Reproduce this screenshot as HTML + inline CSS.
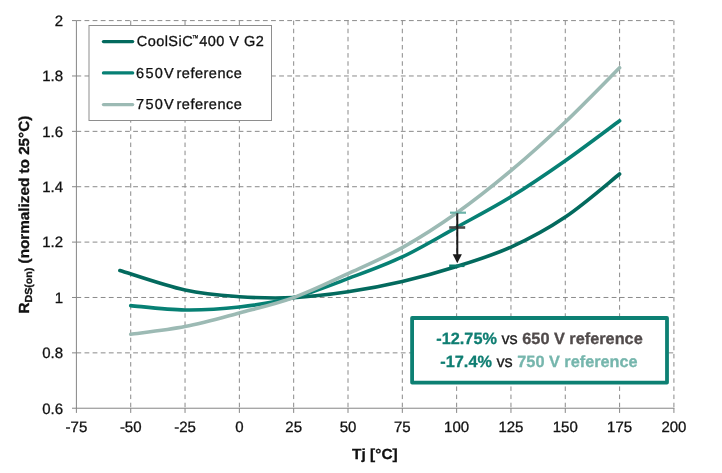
<!DOCTYPE html>
<html><head><meta charset="utf-8"><style>
html,body{margin:0;padding:0;background:#fff;width:722px;height:473px;overflow:hidden}
svg{display:block;will-change:transform}
text{text-rendering:geometricPrecision;font-family:"Liberation Sans",Arial,sans-serif;fill:#111;stroke:#111;stroke-width:0.3px}
.tl{font-size:15px}
.an{font-size:16.3px;font-weight:bold}
</style></head><body>
<svg width="722" height="473" viewBox="0 0 722 473">
<rect width="722" height="473" fill="#fff"/>
<line x1="76.40" y1="352.86" x2="673.92" y2="352.86" stroke="#8a8a8a" stroke-width="1" stroke-dasharray="4.8 3.31"/>
<line x1="76.40" y1="297.48" x2="673.92" y2="297.48" stroke="#8a8a8a" stroke-width="1" stroke-dasharray="4.8 3.31"/>
<line x1="76.40" y1="242.10" x2="673.92" y2="242.10" stroke="#8a8a8a" stroke-width="1" stroke-dasharray="4.8 3.31"/>
<line x1="76.40" y1="186.73" x2="673.92" y2="186.73" stroke="#8a8a8a" stroke-width="1" stroke-dasharray="4.8 3.31"/>
<line x1="76.40" y1="131.35" x2="673.92" y2="131.35" stroke="#8a8a8a" stroke-width="1" stroke-dasharray="4.8 3.31"/>
<line x1="76.40" y1="75.98" x2="673.92" y2="75.98" stroke="#8a8a8a" stroke-width="1" stroke-dasharray="4.8 3.31"/>
<line x1="76.40" y1="20.60" x2="673.92" y2="20.60" stroke="#8a8a8a" stroke-width="1" stroke-dasharray="4.8 3.31"/>
<line x1="130.72" y1="20.60" x2="130.72" y2="408.23" stroke="#8a8a8a" stroke-width="1" stroke-dasharray="4.5 3.63"/>
<line x1="185.04" y1="20.60" x2="185.04" y2="408.23" stroke="#8a8a8a" stroke-width="1" stroke-dasharray="4.5 3.63"/>
<line x1="239.36" y1="20.60" x2="239.36" y2="408.23" stroke="#8a8a8a" stroke-width="1" stroke-dasharray="4.5 3.63"/>
<line x1="293.68" y1="20.60" x2="293.68" y2="408.23" stroke="#8a8a8a" stroke-width="1" stroke-dasharray="4.5 3.63"/>
<line x1="348.00" y1="20.60" x2="348.00" y2="408.23" stroke="#8a8a8a" stroke-width="1" stroke-dasharray="4.5 3.63"/>
<line x1="402.32" y1="20.60" x2="402.32" y2="408.23" stroke="#8a8a8a" stroke-width="1" stroke-dasharray="4.5 3.63"/>
<line x1="456.64" y1="20.60" x2="456.64" y2="408.23" stroke="#8a8a8a" stroke-width="1" stroke-dasharray="4.5 3.63"/>
<line x1="510.96" y1="20.60" x2="510.96" y2="408.23" stroke="#8a8a8a" stroke-width="1" stroke-dasharray="4.5 3.63"/>
<line x1="565.28" y1="20.60" x2="565.28" y2="408.23" stroke="#8a8a8a" stroke-width="1" stroke-dasharray="4.5 3.63"/>
<line x1="619.60" y1="20.60" x2="619.60" y2="408.23" stroke="#8a8a8a" stroke-width="1" stroke-dasharray="4.5 3.63"/>
<line x1="673.92" y1="20.60" x2="673.92" y2="408.23" stroke="#8a8a8a" stroke-width="1" stroke-dasharray="4.5 3.63"/>
<line x1="76.40" y1="20.60" x2="76.40" y2="408.23" stroke="#868686" stroke-width="1"/>
<line x1="75.90" y1="408.23" x2="674.42" y2="408.23" stroke="#868686" stroke-width="1"/>
<line x1="72" y1="408.23" x2="76.40" y2="408.23" stroke="#868686" stroke-width="1"/>
<line x1="72" y1="352.86" x2="76.40" y2="352.86" stroke="#868686" stroke-width="1"/>
<line x1="72" y1="297.48" x2="76.40" y2="297.48" stroke="#868686" stroke-width="1"/>
<line x1="72" y1="242.10" x2="76.40" y2="242.10" stroke="#868686" stroke-width="1"/>
<line x1="72" y1="186.73" x2="76.40" y2="186.73" stroke="#868686" stroke-width="1"/>
<line x1="72" y1="131.35" x2="76.40" y2="131.35" stroke="#868686" stroke-width="1"/>
<line x1="72" y1="75.98" x2="76.40" y2="75.98" stroke="#868686" stroke-width="1"/>
<line x1="72" y1="20.60" x2="76.40" y2="20.60" stroke="#868686" stroke-width="1"/>
<line x1="76.40" y1="408.23" x2="76.40" y2="412.93" stroke="#868686" stroke-width="1"/>
<line x1="130.72" y1="408.23" x2="130.72" y2="412.93" stroke="#868686" stroke-width="1"/>
<line x1="185.04" y1="408.23" x2="185.04" y2="412.93" stroke="#868686" stroke-width="1"/>
<line x1="239.36" y1="408.23" x2="239.36" y2="412.93" stroke="#868686" stroke-width="1"/>
<line x1="293.68" y1="408.23" x2="293.68" y2="412.93" stroke="#868686" stroke-width="1"/>
<line x1="348.00" y1="408.23" x2="348.00" y2="412.93" stroke="#868686" stroke-width="1"/>
<line x1="402.32" y1="408.23" x2="402.32" y2="412.93" stroke="#868686" stroke-width="1"/>
<line x1="456.64" y1="408.23" x2="456.64" y2="412.93" stroke="#868686" stroke-width="1"/>
<line x1="510.96" y1="408.23" x2="510.96" y2="412.93" stroke="#868686" stroke-width="1"/>
<line x1="565.28" y1="408.23" x2="565.28" y2="412.93" stroke="#868686" stroke-width="1"/>
<line x1="619.60" y1="408.23" x2="619.60" y2="412.93" stroke="#868686" stroke-width="1"/>
<line x1="673.92" y1="408.23" x2="673.92" y2="412.93" stroke="#868686" stroke-width="1"/>
<text x="63" y="413.53" text-anchor="end" class="tl">0.6</text>
<text x="63" y="358.16" text-anchor="end" class="tl">0.8</text>
<text x="63" y="302.78" text-anchor="end" class="tl">1</text>
<text x="63" y="247.40" text-anchor="end" class="tl">1.2</text>
<text x="63" y="192.03" text-anchor="end" class="tl">1.4</text>
<text x="63" y="136.65" text-anchor="end" class="tl">1.6</text>
<text x="63" y="81.28" text-anchor="end" class="tl">1.8</text>
<text x="63" y="25.90" text-anchor="end" class="tl">2</text>
<text x="76.40" y="431.5" text-anchor="middle" class="tl">-75</text>
<text x="130.72" y="431.5" text-anchor="middle" class="tl">-50</text>
<text x="185.04" y="431.5" text-anchor="middle" class="tl">-25</text>
<text x="239.36" y="431.5" text-anchor="middle" class="tl">0</text>
<text x="293.68" y="431.5" text-anchor="middle" class="tl">25</text>
<text x="348.00" y="431.5" text-anchor="middle" class="tl">50</text>
<text x="402.32" y="431.5" text-anchor="middle" class="tl">75</text>
<text x="456.64" y="431.5" text-anchor="middle" class="tl">100</text>
<text x="510.96" y="431.5" text-anchor="middle" class="tl">125</text>
<text x="565.28" y="431.5" text-anchor="middle" class="tl">150</text>
<text x="619.60" y="431.5" text-anchor="middle" class="tl">175</text>
<text x="673.92" y="431.5" text-anchor="middle" class="tl">200</text>
<path d="M119.86 270.50 C130.72 273.77 165.12 285.73 185.04 290.10 C204.96 294.47 221.25 295.45 239.36 296.70 C257.47 297.95 275.57 298.42 293.68 297.60 C311.79 296.78 329.89 294.48 348.00 291.80 C366.11 289.12 384.21 285.72 402.32 281.50 C420.43 277.28 438.53 272.23 456.64 266.50 C474.75 260.77 492.85 255.35 510.96 247.10 C529.07 238.85 547.17 229.18 565.28 217.00 C583.39 204.82 610.55 181.17 619.60 174.00" fill="none" stroke="#036a5e" stroke-width="3.6" stroke-linejoin="round" stroke-linecap="round"/>
<path d="M130.72 305.60 C139.77 306.33 166.93 309.77 185.04 310.00 C203.15 310.23 221.25 309.07 239.36 307.00 C257.47 304.93 275.57 302.33 293.68 297.60 C311.79 292.87 329.89 285.38 348.00 278.60 C366.11 271.82 384.21 265.45 402.32 256.90 C420.43 248.35 438.53 237.32 456.64 227.30 C474.75 217.28 492.85 207.90 510.96 196.80 C529.07 185.70 547.17 173.37 565.28 160.70 C583.39 148.03 610.55 127.45 619.60 120.80" fill="none" stroke="#078074" stroke-width="3.6" stroke-linejoin="round" stroke-linecap="round"/>
<path d="M130.72 334.30 C139.77 333.02 166.93 330.15 185.04 326.60 C203.15 323.05 221.25 317.83 239.36 313.00 C257.47 308.17 275.57 304.15 293.68 297.60 C311.79 291.05 329.89 282.03 348.00 273.70 C366.11 265.37 384.21 257.72 402.32 247.60 C420.43 237.48 438.53 225.82 456.64 213.00 C474.75 200.18 492.85 185.87 510.96 170.70 C529.07 155.53 547.17 139.17 565.28 122.00 C583.39 104.83 610.55 76.75 619.60 67.70" fill="none" stroke="#9cbab4" stroke-width="3.6" stroke-linejoin="round" stroke-linecap="round"/>
<line x1="450.00" y1="212.7" x2="466.00" y2="212.7" stroke="#6cb3a9" stroke-width="2.2"/>
<line x1="449.20" y1="227.5" x2="465.20" y2="227.5" stroke="#4a4a4a" stroke-width="2.6"/>
<line x1="449.20" y1="265.8" x2="464.50" y2="265.8" stroke="#0b7a6c" stroke-width="2.6"/>
<line x1="457.30" y1="213.2" x2="457.30" y2="255" stroke="#1a1a1a" stroke-width="2"/>
<path d="M452.70 254.2 L461.90 254.2 L457.30 263.2 Z" fill="#1a1a1a"/>
<rect x="89" y="25.5" width="182.5" height="95" fill="#fff" stroke="#8e8e8e" stroke-width="1"/>
<line x1="103.5" y1="41.6" x2="132.6" y2="41.6" stroke="#036a5e" stroke-width="3.4" stroke-linecap="round"/>
<line x1="103.5" y1="72.9" x2="132.6" y2="72.9" stroke="#078074" stroke-width="3.4" stroke-linecap="round"/>
<line x1="103.5" y1="104.6" x2="132.6" y2="104.6" stroke="#9cbab4" stroke-width="3.4" stroke-linecap="round"/>
<text x="136.70" y="45.5" textLength="55.93" lengthAdjust="spacing" style="font-size:14.5px" fill="#111">CoolSiC</text>
<text x="192.36" y="41.3" textLength="6.14" lengthAdjust="spacingAndGlyphs" style="font-size:8.6px" fill="#111">™</text>
<text x="199.15" y="45.5" textLength="64.69" lengthAdjust="spacing" style="font-size:14.5px" fill="#111">400 V G2</text>
<text x="136.10" y="77.7" textLength="37.61" lengthAdjust="spacing" style="font-size:14.5px" fill="#111">650V</text>
<text x="176.55" y="77.7" textLength="65.20" lengthAdjust="spacing" style="font-size:14.5px" fill="#111">reference</text>
<text x="136.10" y="108.6" textLength="37.61" lengthAdjust="spacing" style="font-size:14.5px" fill="#111">750V</text>
<text x="176.55" y="108.6" textLength="65.20" lengthAdjust="spacing" style="font-size:14.5px" fill="#111">reference</text>
<rect x="412.1" y="318" width="254.9" height="64.6" fill="#fff" stroke="#0d8073" stroke-width="3.8" stroke-linejoin="round"/>
<text x="539.5" y="343.5" text-anchor="middle" class="an"><tspan fill="#0f7e72" stroke="#0f7e72">-12.75%</tspan><tspan fill="#222" stroke="#222" font-weight="normal"> vs </tspan><tspan fill="#514b4b" stroke="#514b4b">650 V reference</tspan></text>
<text x="539" y="366.5" text-anchor="middle" class="an"><tspan fill="#0f7e72" stroke="#0f7e72">-17.4%</tspan><tspan fill="#222" stroke="#222" font-weight="normal"> vs </tspan><tspan fill="#76b6ad" stroke="#76b6ad">750 V reference</tspan></text>
<text x="352.10" y="458.6" textLength="45.56" lengthAdjust="spacingAndGlyphs" style="font-size:14.6px;font-weight:bold" fill="#111">Tj [°C]</text>
<text transform="translate(29.0 473) rotate(-90)" x="159.42" y="0" textLength="197.91" lengthAdjust="spacingAndGlyphs" style="font-size:14.6px;font-weight:bold" fill="#111">R<tspan font-size="10.2" dy="2.6">DS(on)</tspan><tspan dy="-2.6"> (normalized to 25°C)</tspan></text>
</svg>
</body></html>
